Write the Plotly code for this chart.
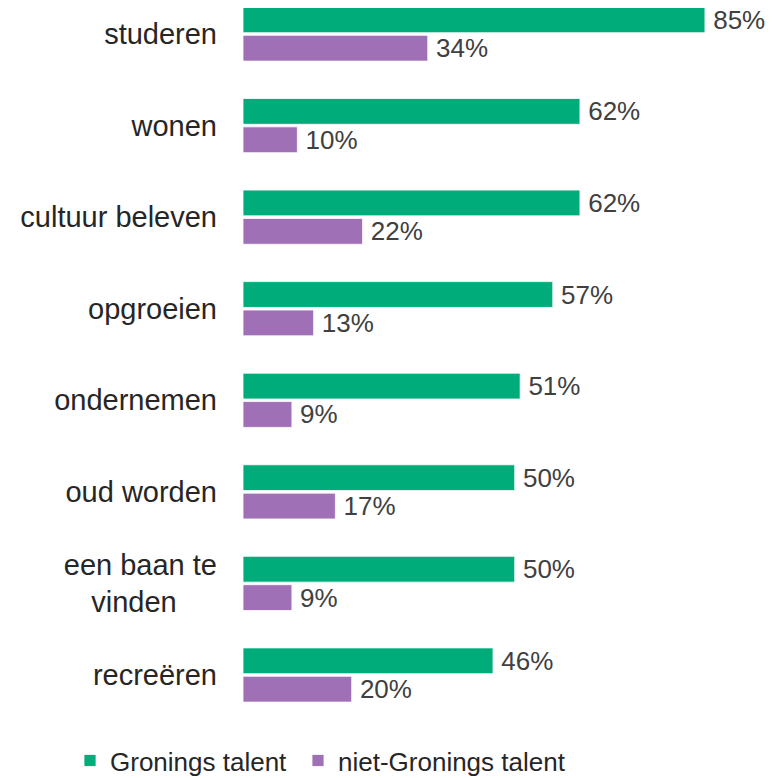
import plotly.graph_objects as go

NBSP = "\u00a0"
THIN = "\u2009"

categories = [
    "studeren",
    "wonen",
    "cultuur beleven",
    "opgroeien",
    "ondernemen",
    "oud worden",
    "een baan te<br>vinden" + NBSP * 5,
    "recreëren",
]
gronings = [85, 62, 62, 57, 51, 50, 50, 46]
niet_gronings = [34, 10, 22, 13, 9, 17, 9, 20]

GREEN = "#00AD7A"
PURPLE = "#A070B6"
FONT = "Liberation Sans, Arial, sans-serif"

fig = go.Figure()
for name, values, color, legend in [
        ("Gronings talent", gronings, GREEN, "legend"),
        ("niet-Gronings talent", niet_gronings, PURPLE, "legend2"),
]:
    fig.add_trace(go.Bar(
        name=name,
        y=categories,
        x=values,
        orientation="h",
        legend=legend,
        marker=dict(color=color, line=dict(color="white", width=0.8)),
        text=[f"{THIN}{v}%" for v in values],
        textposition="outside",
        textfont=dict(family=FONT, size=26, color="#404040"),
        cliponaxis=False,
        constraintext="none",
    ))

legend_style = dict(
    orientation="h",
    xref="container",
    yref="container",
    y=0.0327,
    xanchor="left",
    yanchor="middle",
    font=dict(family=FONT, size=26, color="#262626"),
    bgcolor="rgba(0,0,0,0)",
)

fig.update_layout(
    width=768,
    height=778,
    barmode="group",
    bargap=0.38,
    bargroupgap=0.09,
    plot_bgcolor="white",
    paper_bgcolor="white",
    margin=dict(l=235, r=8, t=0, b=60, autoexpand=False),
    font=dict(family=FONT, size=26, color="#262626"),
    showlegend=True,
    legend=dict(x=62 / 768, **legend_style),
    legend2=dict(x=290 / 768, **legend_style),
    xaxis=dict(
        range=[0, 96.6],
        showticklabels=False,
        showgrid=False,
        zeroline=False,
        showline=False,
        automargin=False,
    ),
    yaxis=dict(
        categoryorder="array",
        categoryarray=categories,
        range=[7.557, -0.284],
        showgrid=False,
        zeroline=False,
        showline=False,
        ticks="",
        ticklabelstandoff=25,
        automargin=False,
        tickfont=dict(family=FONT, size=29, color="#262626"),
    ),
)

fig.write_html("out.html")
